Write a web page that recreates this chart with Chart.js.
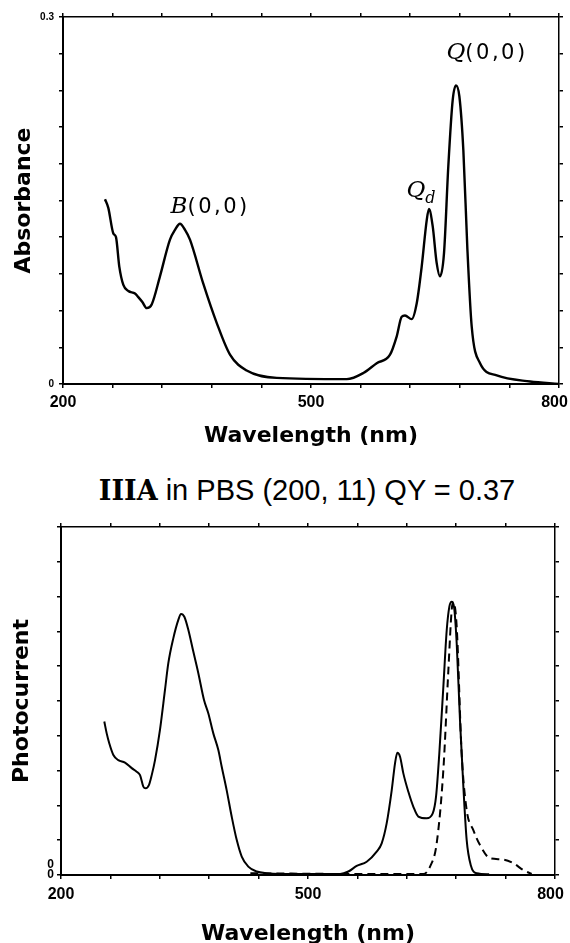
<!DOCTYPE html>
<html>
<head>
<meta charset="utf-8">
<script src="https://cdn.jsdelivr.net/npm/chart.js@4.4.1/dist/chart.umd.min.js"></script>
<style>
    html, body { margin: 0; padding: 0; background: #fff; width: 570px; height: 943px; overflow: hidden; }
    #grafico-absorbancia { position: absolute; left: 0; top: 0; }
    #titulo-fotocorrente { position: absolute; left: 22px; top: 476px; width: 570px; text-align: center;
        font: 29px "Liberation Sans", Arial, sans-serif; line-height: 1; white-space: nowrap; color: #000; }
    #titulo-fotocorrente b { font-family: "DejaVu Serif", serif; font-size: 27px; }
    #grafico-fotocorrente { position: absolute; left: 0; top: 510px; }
</style>
</head>
<body>
<canvas id="grafico-absorbancia" width="570" height="455"></canvas>
<div id="titulo-fotocorrente"><b>IIIA</b> in PBS (200, 11) QY = 0.37</div>
<canvas id="grafico-fotocorrente" width="570" height="445"></canvas>

<script>
// Eixo X (comum aos dois painéis)
const xTicks = [200, 260, 320, 380, 440, 500, 560, 620, 680, 740, 800];
const xLabels = ['200', '', '', '', '', '500', '', '', '', '', '800'];

// Painel de cima: absorbância
const yTicks1 = [0, 0.03, 0.06, 0.09, 0.12, 0.15, 0.18, 0.21, 0.24, 0.27, 0.3];
const yLabels1 = ['0', '', '', '', '', '', '', '', '', '', '0.3'];
const wlAbs = [250.8, 254.8, 260.9, 264.1, 268.1, 273, 279, 287.1, 291.1, 296, 301.2, 307.3, 317.3, 329.4, 335.5, 341.5,
    347.6, 353.6, 369.7, 385.9, 402, 422.2, 458.5, 543.2, 563.3, 579.5, 595.6, 603.7, 609.7, 613.7, 621.8, 627.9,
    633.9, 640, 642.7, 647.2, 652, 656, 660.9, 666.1, 671.4, 675.4, 679.5, 684.3, 689.2, 694.4, 704.5, 724.7, 765, 800];
const absorbance = [0.151, 0.144, 0.123, 0.120, 0.096, 0.081, 0.076, 0.074, 0.071, 0.067, 0.062, 0.065, 0.088, 0.118, 0.126, 0.131,
    0.126, 0.118, 0.082, 0.050, 0.024, 0.011, 0.005, 0.004, 0.009, 0.017, 0.024, 0.039, 0.055, 0.056, 0.053, 0.066,
    0.096, 0.134, 0.143, 0.129, 0.099, 0.088, 0.107, 0.178, 0.232, 0.244, 0.235, 0.191, 0.110, 0.047, 0.017, 0.007, 0.002, 0];

// Rótulos das bandas (posição em nm / absorbância)
const bandaTexto = ['B(0,0)', 'Qd', 'Q(0,0)'];
const bandaX = [378, 633, 713];
const bandaY = [0.1455, 0.1586, 0.271];

// Painel de baixo: fotocorrente (contínua) e curva tracejada
const yTicks2 = [0, 0.3, 1, 2, 3, 4, 5, 6, 7, 8, 9, 10];
const yLabels2 = ['0', '0', '', '', '', '', '', '', '', '', '', ''];
const wlFoto = [252.6, 255.5, 258.7, 263.6, 269.6, 277.7, 285.9, 291.9, 296, 300, 302.9, 306.9, 310.2, 314.2, 320.2,
    326.3, 330.3, 336.4, 342.5, 345.8, 349.8, 354.7, 360.7, 366.8, 373.7, 378.9, 385, 391.1, 395.2, 401.2, 407.3,
    413.4, 419.5, 427.5, 437.7, 449.8, 466, 538.9, 549, 559.1, 571.3, 583.4, 589.5, 595.6, 601.7, 605.7, 608.5,
    611.8, 615.8, 621.9, 628, 634, 644.2, 651.5, 655.5, 659.5, 664.4, 668.5, 671.7, 674.5, 677.3, 680.6, 684.6,
    688.7, 692.7, 697.6, 704.9, 720];
const fotocorrente = [4.41, 4.07, 3.78, 3.45, 3.30, 3.23, 3.07, 2.97, 2.87, 2.54, 2.49, 2.59, 2.87, 3.30, 4.17,
    5.32, 6.08, 6.80, 7.33, 7.50, 7.42, 7.04, 6.42, 5.80, 5.03, 4.65, 4.07, 3.59, 3.11, 2.44, 1.68,
    1.01, 0.53, 0.24, 0.10, 0.05, 0.03, 0.03, 0.10, 0.26, 0.38, 0.67, 0.91, 1.49, 2.44, 3.21, 3.51,
    3.40, 2.92, 2.39, 1.96, 1.68, 1.63, 1.77, 2.25, 3.50, 5.41, 7.04, 7.71, 7.85, 7.71, 6.66, 4.45,
    2.54, 1.01, 0.29, 0.05, 0.02];
const wlTracejada = [430, 480, 550, 600, 640, 648.2, 656.3, 664.4, 670.5, 674.5, 676.5, 680.6, 686.6, 692.7,
    700.8, 708.9, 721, 735.2, 749.4, 761.5, 771.7];
const tracejada = [0.05, 0.04, 0.03, 0.03, 0.03, 0.24, 0.91, 3.02, 5.89, 7.61, 7.85, 7.14, 3.50, 1.87,
    1.29, 0.86, 0.48, 0.45, 0.34, 0.14, 0.03];

Chart.defaults.color = '#000';

const fonteEixo = { family: 'DejaVu Sans', weight: 'bold', size: 22 };
const fonteTick = { family: 'Liberation Sans', weight: 'bold', size: 16 };

function pontos(xs, ys) {
    return xs.map((x, i) => ({ x: x, y: ys[i] }));
}

// Marcas de escala (para fora, nos quatro lados)
function grade(escondido) {
    return {
        display: true,
        drawOnChartArea: false,
        drawTicks: true,
        tickLength: 4,
        lineWidth: 1.5,
        color: '#000',
        tickColor: ctx => (escondido && escondido(ctx) ? 'rgba(0,0,0,0)' : '#000')
    };
}

// Escala X (embaixo com rótulos, em cima só com marcas)
function escalaX(posicao, altura, paddingTick, comTitulo) {
    return {
        type: 'linear',
        position: posicao,
        min: 200,
        max: 800,
        afterBuildTicks: s => { s.ticks = xTicks.map(v => ({ value: v })); },
        ticks: {
            display: posicao === 'bottom',
            autoSkip: false,
            maxRotation: 0,
            padding: paddingTick,
            font: fonteTick,
            callback: (v, i) => xLabels[i] + (i === xLabels.length - 1 ? '\u2007' : '')
        },
        grid: grade(),
        border: { display: true, color: '#000', width: posicao === 'bottom' ? 2 : 1.5 },
        title: {
            display: comTitulo,
            text: 'Wavelength (nm)',
            font: fonteEixo,
            padding: { top: 4, bottom: 4 }
        },
        afterFit: s => { s.height = altura; s.paddingLeft = 0; s.paddingRight = 0; }
    };
}

// Escala Y (esquerda com rótulos, direita só com marcas)
function escalaY(posicao, max, ticksY, labelsY, fonteY, paddingTick, titulo, escondido) {
    return {
        type: 'linear',
        position: posicao,
        min: 0,
        max: max,
        afterBuildTicks: s => { s.ticks = ticksY.map(v => ({ value: v })); },
        ticks: {
            display: posicao === 'left',
            autoSkip: false,
            padding: paddingTick,
            font: fonteY,
            callback: (v, i) => labelsY[i]
        },
        grid: grade(escondido),
        border: { display: true, color: '#000', width: posicao === 'left' ? 2 : 1.5 },
        title: {
            display: !!titulo,
            text: titulo || '',
            font: fonteEixo,
            padding: { top: 4, bottom: 4 }
        },
        afterFit: s => { s.width = posicao === 'left' ? 56 : 4; s.paddingTop = 0; s.paddingBottom = 0; }
    };
}

// Desenha "B(0,0)", "Qd", "Q(0,0)": símbolo em itálico, resto normal, d subscrito
function desenharBanda(ctx, texto, cx, cy) {
    const partes = [{ t: texto[0], font: 'italic 23px "DejaVu Serif"', dy: 0, ls: '0px' }];
    const resto = texto.slice(1);
    if (resto === 'd') {
        partes.push({ t: resto, font: 'italic 16px "DejaVu Serif"', dy: 6, ls: '0px' });
    } else {
        partes.push({ t: resto, font: '21px "DejaVu Sans"', dy: 0, ls: '2.5px' });
    }
    let total = 0;
    partes.forEach(p => {
        ctx.font = p.font;
        ctx.letterSpacing = p.ls;
        p.w = ctx.measureText(p.t).width;
        total += p.w;
    });
    let x = cx - total / 2;
    const base = cy + 7;
    ctx.fillStyle = '#000';
    ctx.textAlign = 'left';
    ctx.textBaseline = 'alphabetic';
    partes.forEach(p => {
        ctx.font = p.font;
        ctx.letterSpacing = p.ls;
        ctx.fillText(p.t, x, base + p.dy);
        x += p.w;
    });
    ctx.letterSpacing = '0px';
}

const bandasPlugin = {
    id: 'bandas',
    afterDatasetsDraw(chart) {
        const { ctx, scales } = chart;
        ctx.save();
        bandaTexto.forEach((texto, i) => {
            desenharBanda(ctx, texto, scales.x.getPixelForValue(bandaX[i]), scales.y.getPixelForValue(bandaY[i]));
        });
        ctx.restore();
    }
};

const opcoesBase = {
    responsive: false,
    animation: false,
    events: [],
    plugins: { legend: { display: false }, tooltip: { enabled: false } }
};

// Painel de cima
new Chart(document.getElementById('grafico-absorbancia'), {
    type: 'line',
    data: {
        datasets: [{
            label: 'Absorbance',
            data: pontos(wlAbs, absorbance),
            borderColor: '#000',
            borderWidth: 2.4,
            pointRadius: 0,
            cubicInterpolationMode: 'monotone',
            fill: false
        }]
    },
    options: {
        ...opcoesBase,
        layout: { padding: { left: 7, right: 7, top: 13, bottom: 2 } },
        scales: {
            x: escalaX('bottom', 69, 5, true),
            x2: escalaX('top', 4, 0, false),
            y: escalaY('left', 0.3, yTicks1, yLabels1, { family: 'Liberation Sans', weight: 'bold', size: 10 }, 5, 'Absorbance'),
            y2: escalaY('right', 0.3, yTicks1, yLabels1, null, 0, null)
        }
    },
    plugins: [bandasPlugin]
});

// Painel de baixo
const soRotulo = ctx => ctx.index === 1;
new Chart(document.getElementById('grafico-fotocorrente'), {
    type: 'line',
    data: {
        datasets: [
            {
                label: 'Photocurrent',
                data: pontos(wlFoto, fotocorrente),
                borderColor: '#000',
                borderWidth: 2,
                pointRadius: 0,
                cubicInterpolationMode: 'monotone',
                fill: false
            },
            {
                label: 'Tracejada',
                data: pontos(wlTracejada, tracejada),
                borderColor: '#000',
                borderWidth: 2,
                borderDash: [8, 5],
                pointRadius: 0,
                cubicInterpolationMode: 'monotone',
                fill: false
            }
        ]
    },
    options: {
        ...opcoesBase,
        layout: { padding: { left: 5, right: 11, top: 13, bottom: 4 } },
        scales: {
            x: escalaX('bottom', 76, 6, true),
            x2: escalaX('top', 4, 0, false),
            y: escalaY('left', 10, yTicks2, yLabels2, { family: 'Liberation Sans', weight: 'bold', size: 12 }, 3, 'Photocurrent', soRotulo),
            y2: escalaY('right', 10, yTicks2, yLabels2, null, 0, null, soRotulo)
        }
    }
});
</script>
</body>
</html>
